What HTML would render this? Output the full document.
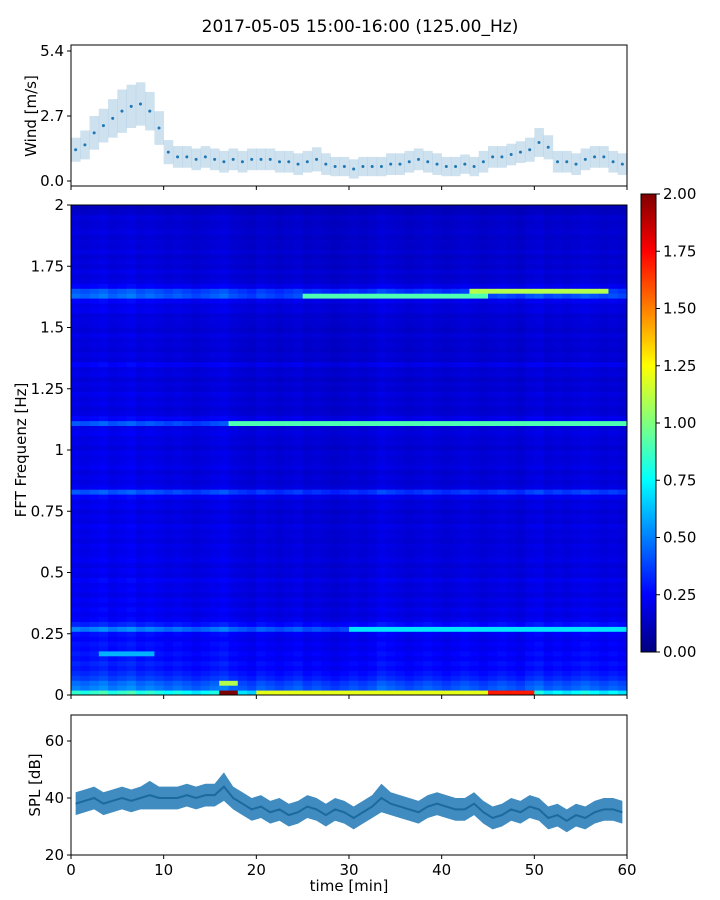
<!DOCTYPE html>
<html><head><meta charset="utf-8"><style>
html,body{margin:0;padding:0;background:#fff;}
svg{display:block;font-family:"DejaVu Sans","Liberation Sans",sans-serif;}
</style></head><body>
<svg id="s" width="720" height="900" xmlns="http://www.w3.org/2000/svg">
<text x="360" y="32" font-size="17" text-anchor="middle">2017-05-05 15:00-16:00 (125.00_Hz)</text>
<g id="wind"></g>
<g id="spec"></g>
<g id="cbar"></g>
<g id="spl"></g>
</svg>
<script>
const windMean=[1.3,1.5,2.0,2.3,2.6,2.9,3.1,3.2,2.9,2.2,1.2,1.0,1.0,0.9,1.0,0.9,0.8,0.9,0.8,0.9,0.9,0.9,0.8,0.8,0.7,0.8,0.9,0.7,0.6,0.6,0.5,0.6,0.6,0.6,0.7,0.7,0.8,0.9,0.8,0.7,0.6,0.6,0.7,0.6,0.8,1.0,1.0,1.1,1.2,1.3,1.6,1.4,0.8,0.8,0.7,0.9,1.0,1.0,0.8,0.7];
const windSpread=[0.5,0.6,0.7,0.7,0.8,0.9,0.9,0.9,0.8,0.7,0.5,0.45,0.45,0.45,0.45,0.45,0.45,0.45,0.45,0.45,0.45,0.45,0.45,0.45,0.45,0.45,0.5,0.45,0.4,0.4,0.4,0.4,0.4,0.4,0.45,0.45,0.45,0.45,0.45,0.45,0.4,0.4,0.4,0.4,0.45,0.45,0.45,0.45,0.45,0.5,0.6,0.5,0.45,0.45,0.45,0.45,0.45,0.45,0.45,0.45];
const windTicks=[0.0,2.7,5.4];
const splMean=[38,39,40,38,39,40,39,40,41,40,40,40,41,40,41,41,44,40,38,36,37,35,36,34,35,37,36,34,36,35,33,35,37,40,38,37,36,35,37,38,37,36,36,38,35,33,34,36,35,37,36,33,34,32,34,33,35,36,36,35];
const splSpread=[4,4,4,4,4,4,4,4,5,4,4,4,4,4,4,4,5,4,4,4,4,4,4,4,4,4,4,4,4,4,4,4,4,5,4,4,4,4,4,4,4,4,4,4,4,4,4,4,4,4,4,4,4,4,4,4,4,4,4,4];
const splTicks=[20,40,60];
const timeTicks=[0,10,20,30,40,50,60];
const rowLevel=[1.0,0.6,0.55,0.45,0.4,0.35,0.38,0.33,0.36,0.32,0.34,0.3,0.33,0.6,0.38,0.3,0.27,0.3,0.26,0.29,0.25,0.28,0.26,0.3,0.25,0.27,0.24,0.28,0.26,0.25,0.27,0.24,0.26,0.25,0.28,0.24,0.26,0.23,0.27,0.25,0.3,0.5,0.27,0.24,0.26,0.23,0.27,0.25,0.24,0.26,0.22,0.25,0.24,0.27,0.25,0.5,0.3,0.24,0.22,0.25,0.23,0.26,0.22,0.24,0.21,0.25,0.23,0.3,0.22,0.24,0.21,0.23,0.22,0.25,0.21,0.23,0.24,0.22,0.27,0.25,0.3,0.55,0.5,0.3,0.24,0.22,0.25,0.21,0.23,0.2,0.24,0.21,0.22,0.2,0.23,0.21,0.2,0.22,0.18,0.15];
const colGain=[0.85,0.8,0.85,0.9,0.8,0.85,0.9,0.8,0.85,0.8,0.75,0.8,0.75,0.7,0.75,0.8,0.85,0.75,0.7,0.65,0.75,0.7,0.65,0.7,0.75,0.65,0.7,0.65,0.6,0.65,0.7,0.65,0.7,0.8,0.75,0.7,0.65,0.7,0.75,0.7,0.65,0.7,0.75,0.7,0.65,0.7,0.75,0.7,0.65,0.75,0.8,0.7,0.75,0.7,0.75,0.8,0.75,0.7,0.75,0.7];
const hotspots=[[17,60,1.11,0.9],[25,45,1.63,0.9],[43,58,1.65,1.1],[30,60,0.27,0.7],[16,18,0.01,2.0],[16,18,0.05,1.1],[45,50,0.01,1.7],[20,45,0.01,1.2],[3,9,0.17,0.6]];
const specTicks=[0,0.25,0.5,0.75,1,1.25,1.5,1.75,2];
const specTickLabels=["0","0.25","0.5","0.75","1","1.25","1.5","1.75","2"];
const cbarTicks=[0,0.25,0.5,0.75,1,1.25,1.5,1.75,2];

const NS="http://www.w3.org/2000/svg";
function mk(p,t,a){const e=document.createElementNS(NS,t);for(const k in a)e.setAttribute(k,a[k]);p.appendChild(e);return e;}
const X0=71,X1=627;
const xT=t=>X0+(X1-X0)*t/60;
const yW=v=>181-(181-51)*v/5.4;
const yF=f=>695-490*f/2;
const yS=v=>855-(v-20)*57/20;
const yC=v=>652-458*v/2;
function jet(v){v=Math.max(0,Math.min(1,v));const r=Math.max(0,Math.min(1,1.5-Math.abs(4*v-3))),g=Math.max(0,Math.min(1,1.5-Math.abs(4*v-2))),b=Math.max(0,Math.min(1,1.5-Math.abs(4*v-1)));return `rgb(${r*255|0},${g*255|0},${b*255|0})`;}
function txt(p,x,y,s,anchor,name,size){const e=mk(p,'text',{x,y,'font-size':size||15,'text-anchor':anchor});e.textContent=s;return e;}

// Wind
const W=document.getElementById('wind');
windMean.forEach((m,i)=>{
  const r=mk(W,'rect',{x:xT(i),y:yW(m+windSpread[i]),width:xT(1)-xT(0)+0.3,height:yW(m-windSpread[i])-yW(m+windSpread[i]),fill:'#1f77b4',opacity:0.22});
  
  const c=mk(W,'circle',{cx:xT(i+0.5),cy:yW(m),r:1.5,fill:'#1f77b4'});
  
});
const wf=mk(W,'rect',{x:X0,y:45,width:X1-X0,height:141,fill:'none',stroke:'#000','stroke-width':1});

windTicks.forEach(v=>{mk(W,'line',{x1:X0-4,x2:X0,y1:yW(v),y2:yW(v),stroke:'#000'});txt(W,X0-7,yW(v)+5,v.toFixed(1),'end','wind-tick-label');});
timeTicks.forEach(t=>mk(W,'line',{x1:xT(t),x2:xT(t),y1:186,y2:190,stroke:'#000'}));
const wl=txt(W,0,0,'Wind [m/s]','middle','wind-y-axis-title');wl.setAttribute('transform','translate(36,116) rotate(-90)');

// Spectrogram
const S=document.getElementById('spec');
const nR=rowLevel.length,df=2/nR;
for(let j=0;j<colGain.length;j++){for(let i=0;i<nR;i++){
  let v=rowLevel[i]*colGain[j];const f=(i+0.5)*df;
  hotspots.forEach(h=>{if(j>=h[0]&&j<h[1]&&Math.abs(f-h[2])<df*0.75)v=Math.max(v,h[3]);});
  const r=mk(S,'rect',{x:xT(j),y:yF((i+1)*df),width:xT(j+1)-xT(j)+0.5,height:yF(i*df)-yF((i+1)*df)+0.5,fill:jet(v/2)});
  
}}
const sf=mk(S,'rect',{x:X0,y:205,width:X1-X0,height:490,fill:'none',stroke:'#000'});

specTicks.forEach((v,k)=>{mk(S,'line',{x1:X0-4,x2:X0,y1:yF(v),y2:yF(v),stroke:'#000'});txt(S,X0-7,yF(v)+5,specTickLabels[k],'end','freq-tick-label');});
timeTicks.forEach(t=>mk(S,'line',{x1:xT(t),x2:xT(t),y1:695,y2:699,stroke:'#000'}));
const sl=txt(S,0,0,'FFT Frequenz [Hz]','middle','freq-y-axis-title');sl.setAttribute('transform','translate(26,450) rotate(-90)');

// Colorbar
const C=document.getElementById('cbar');
const defs=mk(C,'defs',{});const lg=mk(defs,'linearGradient',{id:'jg',x1:0,y1:1,x2:0,y2:0});
for(let k=0;k<=8;k++)mk(lg,'stop',{offset:k/8,'stop-color':jet(k/8)});
const cb=mk(C,'rect',{x:641,y:194,width:15,height:458,fill:'url(#jg)',stroke:'#000'});

cbarTicks.forEach(v=>{mk(C,'line',{x1:656,x2:660,y1:yC(v),y2:yC(v),stroke:'#000'});txt(C,663,yC(v)+5,v.toFixed(2),'start','colorbar-tick-label');});

// SPL
const P=document.getElementById('spl');
let up=[],dn=[],ln=[];
splMean.forEach((m,i)=>{const x=xT(i+0.5);up.push(x+','+yS(m+splSpread[i]));dn.unshift(x+','+yS(m-splSpread[i]));ln.push(x+','+yS(m));});
const band=mk(P,'polygon',{points:up.concat(dn).join(' '),fill:'#1f77b4',opacity:0.85});

const line=mk(P,'polyline',{points:ln.join(' '),fill:'none',stroke:'#1a6aa0','stroke-width':2});

const pf=mk(P,'rect',{x:X0,y:715,width:X1-X0,height:140,fill:'none',stroke:'#000'});

splTicks.forEach(v=>{mk(P,'line',{x1:X0-4,x2:X0,y1:yS(v),y2:yS(v),stroke:'#000'});txt(P,X0-7,yS(v)+5,String(v),'end','spl-tick-label');});
timeTicks.forEach(t=>{mk(P,'line',{x1:xT(t),x2:xT(t),y1:855,y2:859,stroke:'#000'});txt(P,xT(t),875,String(t),'middle','time-tick-label');});
txt(P,349,891,'time [min]','middle','x-axis-title');
const pl=txt(P,0,0,'SPL [dB]','middle','spl-y-axis-title');pl.setAttribute('transform','translate(40,785) rotate(-90)');
</script>
</body></html>
